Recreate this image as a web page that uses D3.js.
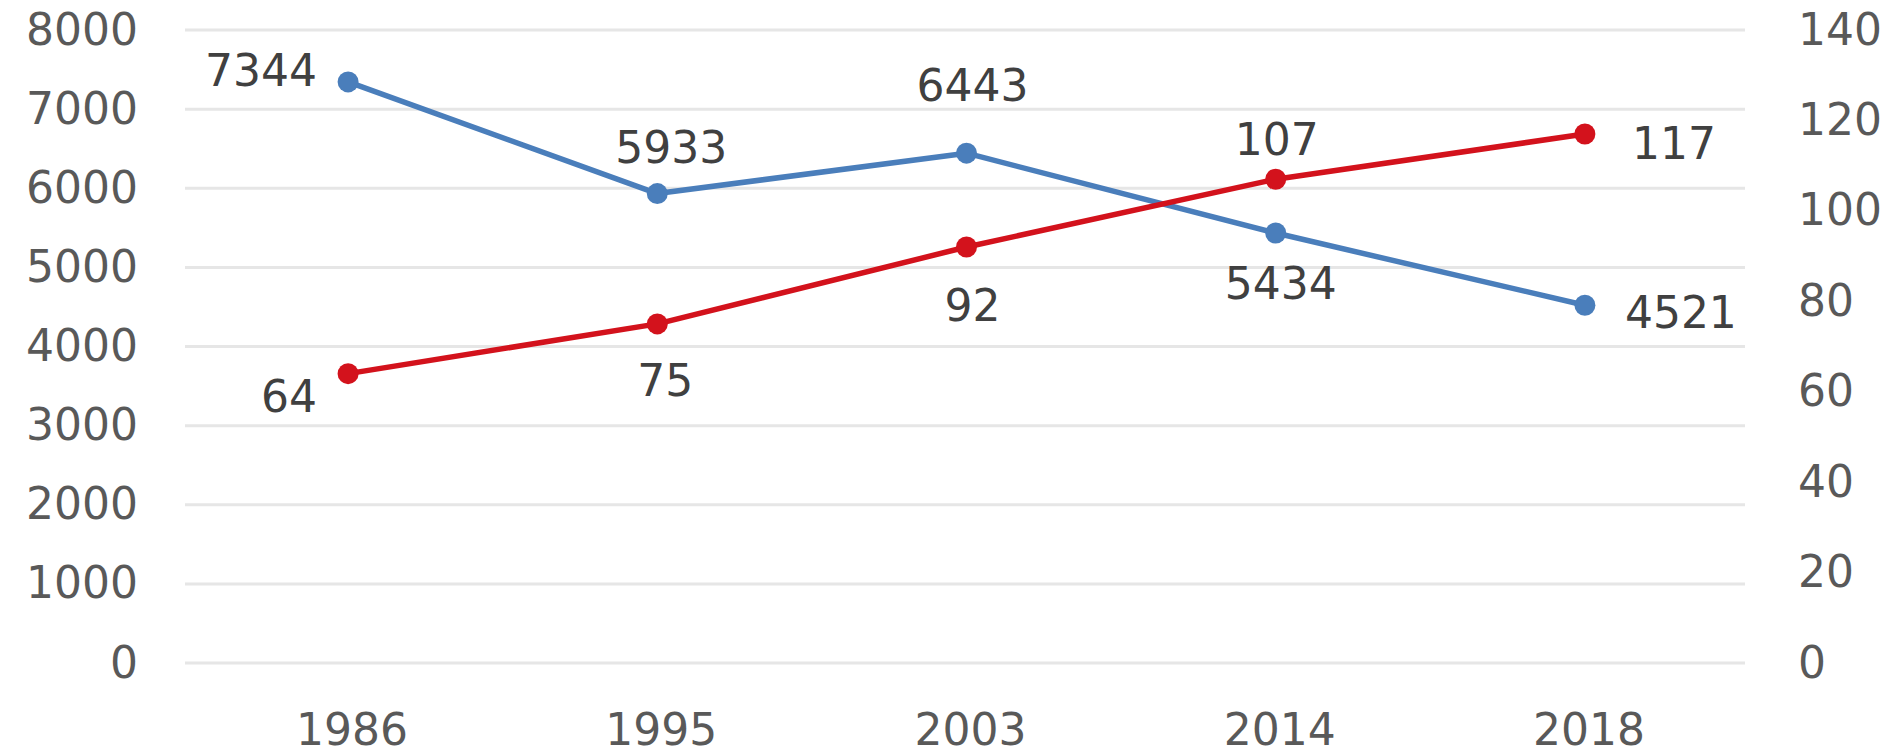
<!DOCTYPE html>
<html>
<head>
<meta charset="utf-8">
<script src="https://cdn.jsdelivr.net/npm/d3@7/dist/d3.min.js"></script>
<style>
  html, body { margin: 0; padding: 0; background: #ffffff; }
  svg { display: block; }
  text { font-family: "DejaVu Sans", Verdana, sans-serif; }
</style>
</head>
<body>
<svg id="chart" width="1898" height="754"></svg>
<script>
// ---- data ----
const years = ["1986", "1995", "2003", "2014", "2018"];
const blueValues = [7344, 5933, 6443, 5434, 4521];
const redValues = [64, 75, 92, 107, 117];
const leftTicks = [0, 1000, 2000, 3000, 4000, 5000, 6000, 7000, 8000];
const rightTicks = [0, 20, 40, 60, 80, 100, 120, 140];

// ---- label placement (style) ----
const blueLabelStyle = [
  {anchor: "end", dx: -31, dy: -12},
  {anchor: "middle", dx: 14, dy: -46},
  {anchor: "middle", dx: 6, dy: -68},
  {anchor: "middle", dx: 5, dy: 50},
  {anchor: "start", dx: 40, dy: 7}
];
const redLabelStyle = [
  {anchor: "end", dx: -31, dy: 23},
  {anchor: "middle", dx: 8, dy: 56},
  {anchor: "middle", dx: 6, dy: 58},
  {anchor: "middle", dx: 1, dy: -40},
  {anchor: "start", dx: 47, dy: 9}
];

const svg = d3.select("#chart");
const plotLeft = 185, plotRight = 1745, plotTop = 30, plotBottom = 663;
const FONT = 44;
const BLUE = "#4a7ebb", RED = "#d3121c";

const x = d3.scaleBand().domain(years).range([193.5, 1739.5]).padding(0);
const cx = d => x(d) + x.bandwidth() / 2;
const yL = d3.scaleLinear().domain([0, 8000]).range([plotBottom, plotTop]);
const yR = d3.scaleLinear().domain([0, 140]).range([plotBottom, plotTop]);

// gridlines
svg.append("g").selectAll("line").data(leftTicks).join("line")
  .attr("x1", plotLeft).attr("x2", plotRight)
  .attr("y1", d => yL(d)).attr("y2", d => yL(d))
  .attr("stroke", "#e6e6e6").attr("stroke-width", 3);

// axes
function styleAxis(g) {
  g.select(".domain").remove();
  g.selectAll(".tick line").remove();
  g.selectAll("text").attr("font-size", FONT).attr("fill", "#595959")
    .attr("font-family", "DejaVu Sans, Verdana, sans-serif");
}
svg.append("g").attr("transform", `translate(${plotLeft},0)`)
  .call(d3.axisLeft(yL).tickValues(leftTicks).tickSize(0).tickPadding(47).tickFormat(d3.format("d")))
  .call(styleAxis);
svg.append("g").attr("transform", `translate(${plotRight},0)`)
  .call(d3.axisRight(yR).tickValues(rightTicks).tickSize(0).tickPadding(53).tickFormat(d3.format("d")))
  .call(styleAxis);
const xAxisG = svg.append("g").attr("transform", `translate(0,${plotBottom})`)
  .call(d3.axisBottom(x).tickSize(0).tickPadding(51))
  .call(styleAxis);
xAxisG.selectAll(".tick").attr("transform", d => `translate(${cx(d) + 4},0)`);

// series
function drawSeries(values, yScale, color, labelStyle) {
  const pts = values.map((v, i) => ({year: years[i], v, s: labelStyle[i]}));
  const line = d3.line().x(d => cx(d.year)).y(d => yScale(d.v));
  svg.append("path").datum(pts).attr("d", line)
    .attr("fill", "none").attr("stroke", color).attr("stroke-width", 5.5)
    .attr("stroke-linejoin", "round");
  svg.append("g").selectAll("circle").data(pts).join("circle")
    .attr("cx", d => cx(d.year)).attr("cy", d => yScale(d.v)).attr("r", 10.5)
    .attr("fill", color);
  svg.append("g").selectAll("text").data(pts).join("text")
    .attr("x", d => cx(d.year) + d.s.dx)
    .attr("y", d => yScale(d.v) + d.s.dy)
    .attr("dy", "0.36em")
    .attr("text-anchor", d => d.s.anchor)
    .attr("font-size", FONT).attr("fill", "#404040")
    .text(d => d.v);
}
drawSeries(blueValues, yL, BLUE, blueLabelStyle);
drawSeries(redValues, yR, RED, redLabelStyle);
</script>
</body>
</html>
